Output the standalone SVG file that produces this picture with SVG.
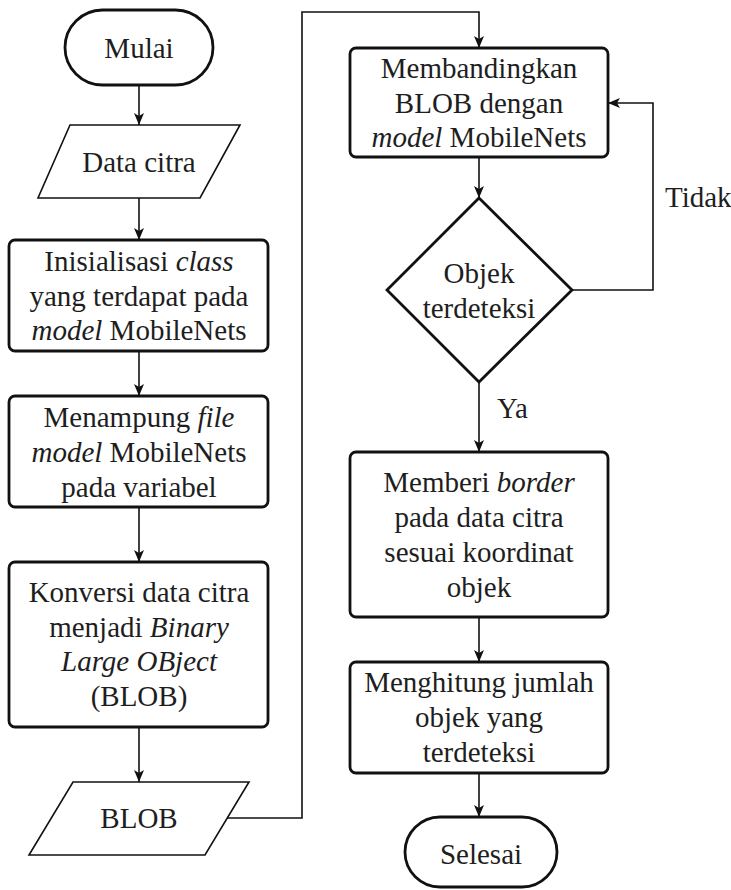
<svg xmlns="http://www.w3.org/2000/svg" width="731" height="890" viewBox="0 0 731 890" font-family="Liberation Serif" font-size="29">
<defs>
<marker id="arr" viewBox="0 0 12 10" refX="12" refY="5" markerWidth="12" markerHeight="10" markerUnits="userSpaceOnUse" orient="auto">
<path d="M0,0 L12,5 L0,10 L3,5 z" fill="#111"/>
</marker>
<style>
text{font-family:"Liberation Serif","Times New Roman",serif;font-size:29px;fill:#1e1e1e;text-anchor:middle}
.l{text-anchor:start}
.i{font-style:italic}
.box{fill:#fff;stroke:#111;stroke-width:2.8}
.io{fill:#fff;stroke:#111;stroke-width:1.6}
.c{fill:none;stroke:#111;stroke-width:1.6;marker-end:url(#arr)}
</style>
</defs>
<rect width="731" height="890" fill="#fff"/>
<g id="connectors">
<line class="c" x1="139" y1="85" x2="139" y2="125"/>
<line class="c" x1="139" y1="198" x2="139" y2="240"/>
<line class="c" x1="139" y1="351" x2="139" y2="396"/>
<line class="c" x1="139" y1="507" x2="139" y2="562"/>
<line class="c" x1="139" y1="727" x2="139" y2="782"/>
<polyline class="c" points="227,818 302,818 302,12 479,12 479,48"/>
<line class="c" x1="479" y1="157" x2="479" y2="198"/>
<polyline class="c" points="572,290 653,290 653,103 608,103"/>
<line class="c" x1="479" y1="382" x2="479" y2="452"/>
<line class="c" x1="479" y1="617" x2="479" y2="662"/>
<line class="c" x1="479" y1="773" x2="479" y2="817"/>
<text class="l" x="665" y="207">Tidak</text>
<text class="l" x="497" y="418">Ya</text>
</g>
<g id="mulai">
<rect class="box" x="65" y="10" width="148" height="75" rx="37.5" ry="37.5"/>
<text x="139" y="58">Mulai</text>
</g>
<g id="data-citra">
<polygon class="io" points="70,125 240,125 200,198 38,198"/>
<text x="139" y="172">Data citra</text>
</g>
<g id="inisialisasi">
<rect class="box" x="9" y="240" width="259" height="111" rx="6"/>
<text x="139" y="271">Inisialisasi <tspan class="i">class</tspan></text>
<text x="139" y="306">yang terdapat pada</text>
<text x="139" y="340"><tspan class="i">model</tspan> MobileNets</text>
</g>
<g id="menampung">
<rect class="box" x="9" y="396" width="259" height="111" rx="6"/>
<text x="139" y="427">Menampung <tspan class="i">file</tspan></text>
<text x="139" y="462"><tspan class="i">model</tspan> MobileNets</text>
<text x="139" y="497">pada variabel</text>
</g>
<g id="konversi">
<rect class="box" x="9" y="562" width="259" height="165" rx="6"/>
<text x="139" y="602">Konversi data citra</text>
<text x="139" y="637">menjadi <tspan class="i">Binary</tspan></text>
<text x="139" y="671" class="i">Large OBject</text>
<text x="139" y="706">(BLOB)</text>
</g>
<g id="blob">
<polygon class="io" points="73,782 249,782 205,855 29,855"/>
<text x="139" y="828">BLOB</text>
</g>
<g id="membandingkan">
<rect class="box" x="350" y="48" width="258" height="109" rx="6"/>
<text x="479" y="78">Membandingkan</text>
<text x="479" y="113">BLOB dengan</text>
<text x="479" y="147"><tspan class="i">model</tspan> MobileNets</text>
</g>
<g id="objek-terdeteksi">
<polygon class="box" points="479,198 572,290 479,382 387,290"/>
<text x="479" y="283">Objek</text>
<text x="479" y="318">terdeteksi</text>
</g>
<g id="memberi-border">
<rect class="box" x="350" y="452" width="258" height="165" rx="6"/>
<text x="479" y="492">Memberi <tspan class="i">border</tspan></text>
<text x="479" y="527">pada data citra</text>
<text x="479" y="562">sesuai koordinat</text>
<text x="479" y="597">objek</text>
</g>
<g id="menghitung">
<rect class="box" x="350" y="662" width="258" height="111" rx="6"/>
<text x="479" y="692">Menghitung jumlah</text>
<text x="479" y="727">objek yang</text>
<text x="479" y="762">terdeteksi</text>
</g>
<g id="selesai">
<rect class="box" x="405" y="817" width="152" height="70" rx="35" ry="35"/>
<text x="481" y="864">Selesai</text>
</g>
</svg>
